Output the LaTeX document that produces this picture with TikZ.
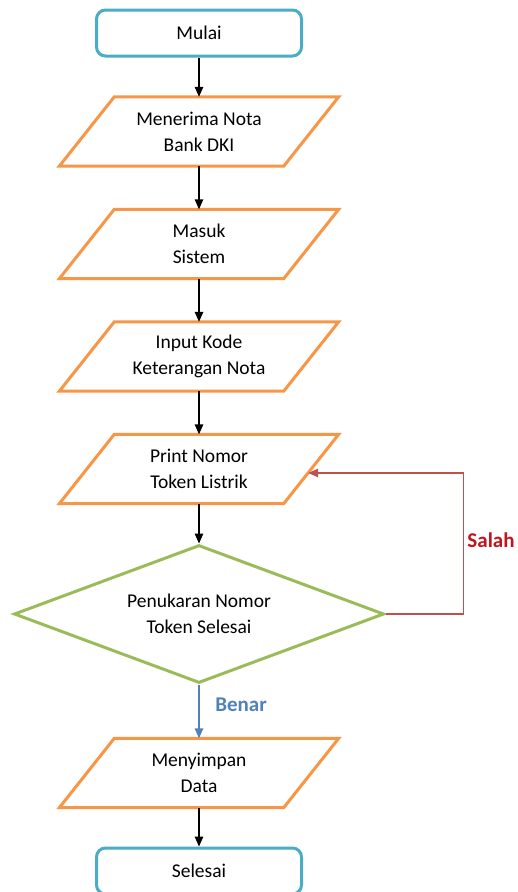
\documentclass[tikz,border=0pt]{standalone}
\usepackage{fontspec}
\setmainfont{Carlito}
\usetikzlibrary{shapes.geometric,arrows.meta}
\definecolor{termblue}{RGB}{75,172,198}
\definecolor{ioorange}{RGB}{247,150,70}
\definecolor{decgreen}{RGB}{155,187,89}
\definecolor{loopred}{RGB}{192,80,77}
\definecolor{salahred}{RGB}{192,20,30}
\definecolor{benarblue}{RGB}{79,129,189}
\begin{document}
\begin{tikzpicture}[x=1pt,y=-1pt,
  every node/.style={font=\fontsize{19.5}{26}\selectfont, align=center},
  terminal/.style={draw=termblue, line width=3pt, rounded corners=9pt, fill=white,
    minimum width=205pt, minimum height=46pt, inner sep=0pt},
  % input/output box: a slanted outline drawn around a plain text body
  iobox/.style={minimum width=224pt, minimum height=69pt, inner sep=0pt,
    append after command={\pgfextra{\let\iobody=\tikzlastnode
      \draw[draw=ioorange, line width=3pt, line join=miter]
      ([xshift=27.5pt]\iobody.north west) -- ([xshift=27.5pt]\iobody.north east)
      -- ([xshift=-27.5pt]\iobody.south east) -- ([xshift=-27.5pt]\iobody.south west)
      -- cycle;}}},
  decision/.style={diamond, draw=decgreen, line width=3pt, aspect=2.68,
    minimum width=370pt, minimum height=138pt, inner sep=0pt},
  flow/.style={-{Triangle[length=10pt,width=8.5pt]}, line width=1.4pt, black},
  noflow/.style={-{Triangle[length=10pt,width=8.5pt]}, line width=1.4pt, loopred},
  yesflow/.style={-{Triangle[length=10pt,width=8.5pt]}, line width=1.4pt, benarblue},
  lbl/.style={font=\fontsize{21}{24}\selectfont\bfseries}
]
\useasboundingbox (0,0) rectangle (518,892);

\node[terminal] (start) at (199,33) {Mulai};
\node[iobox] (nota) at (199,131.5) {Menerima Nota\\Bank DKI};
\node[iobox] (masuk) at (199,244) {Masuk\\Sistem};
\node[iobox] (input) at (199,356.5) {Input Kode\\Keterangan Nota};
\node[iobox] (print) at (199,469) {Print Nomor\\Token Listrik};
\node[decision] (cek) at (199,614) {Penukaran Nomor\\Token Selesai};
\node[iobox] (simpan) at (199,773) {Menyimpan\\Data};
\node[terminal] (end) at (199,871) {Selesai};

\draw[flow] (start) -- (nota);
\draw[flow] (nota) -- (masuk);
\draw[flow] (masuk) -- (input);
\draw[flow] (input) -- (print);
\draw[flow] (print) -- (cek);
\draw[yesflow] (cek) -- (simpan);
\draw[flow] (simpan) -- (end);

\draw[noflow] (cek.east) -- ++(78,0) |- ([yshift=-4pt,xshift=-3pt]print.east);

\node[lbl, text=salahred] (salah) at (491,540) {Salah};
\node[lbl, text=benarblue] (benar) at (241,705) {Benar};
\end{tikzpicture}
\end{document}
